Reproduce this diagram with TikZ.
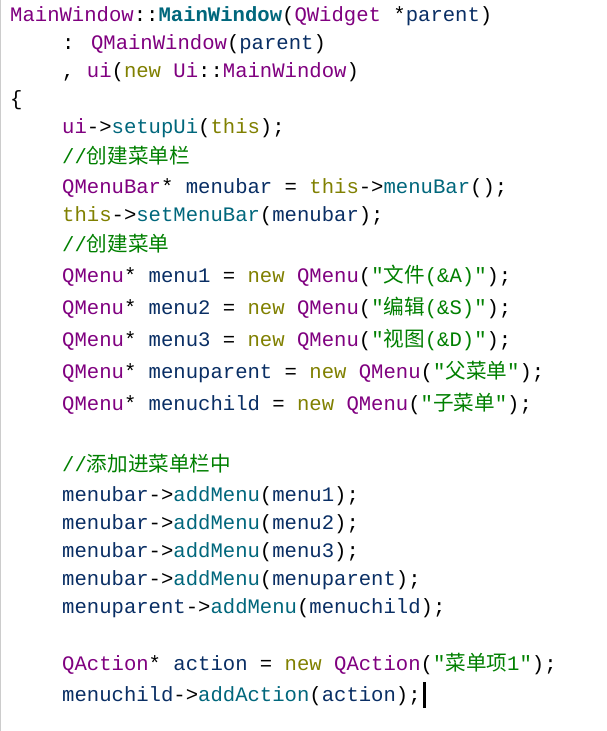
\documentclass[tikz,border=0pt]{standalone}
\usepackage{fontspec}
\usetikzlibrary{positioning}
\newfontfamily\codefont{Liberation Mono}
\newfontfamily\cjk{Noto Sans CJK SC}
\definecolor{clscolor}{RGB}{128,0,128}
\definecolor{fncolor}{RGB}{0,103,124}
\definecolor{kwcolor}{RGB}{128,128,0}
\definecolor{cmcolor}{RGB}{0,128,0}
\definecolor{varcolor}{RGB}{9,46,100}
\newcommand*{\cls}[1]{\textcolor{clscolor}{#1}}
\newcommand*{\fn}[1]{\textcolor{fncolor}{#1}}
\newcommand*{\kw}[1]{\textcolor{kwcolor}{#1}}
\newcommand*{\cm}[1]{\textcolor{cmcolor}{#1}}
\newcommand*{\vr}[1]{\textcolor{varcolor}{#1}}

\begin{document}
\begin{tikzpicture}[x=1pt,y=1pt]
	\tikzset{codeline/.style={anchor=west, inner sep=0pt, font=\codefont\fontsize{20.6}{24}\selectfont, text=black}}
	\useasboundingbox (0,0) rectangle (607,-731);
	\fill[white] (0,0) rectangle (607,-731);
	\draw[gray!40, line width=1pt] (0.5,0) -- (0.5,-731);
	\node (l1) [codeline] at (10,-16) {\cls{MainWindow}::\textbf{\fn{MainWindow}}(\cls{QWidget} *\vr{parent})};
	\node (l2) [codeline] at (62,-44) {: \cls{QMainWindow}(\vr{parent})};
	\node (l3) [codeline] at (62,-72) {, \cls{ui}(\kw{new} \cls{Ui}::\cls{MainWindow})};
	\node (l4) [codeline] at (10,-100) {\{};
	\node (l5) [codeline] at (62,-128) {\cls{ui}->\fn{setupUi}(\kw{this});};
	\node (l6) [codeline] at (62,-156) {\cm{//{\cjk 创建菜单栏}}};
	\node (l7) [codeline] at (62,-188) {\cls{QMenuBar}* \vr{menubar} = \kw{this}->\fn{menuBar}();};
	\node (l8) [codeline] at (62,-216) {\kw{this}->\fn{setMenuBar}(\vr{menubar});};
	\node (l9) [codeline] at (62,-244) {\cm{//{\cjk 创建菜单}}};
	\node (l10) [codeline] at (62,-276) {\cls{QMenu}* \vr{menu1} = \kw{new} \cls{QMenu}(\cm{"{\cjk 文件}(\&A)"});};
	\node (l11) [codeline] at (62,-308) {\cls{QMenu}* \vr{menu2} = \kw{new} \cls{QMenu}(\cm{"{\cjk 编辑}(\&S)"});};
	\node (l12) [codeline] at (62,-340) {\cls{QMenu}* \vr{menu3} = \kw{new} \cls{QMenu}(\cm{"{\cjk 视图}(\&D)"});};
	\node (l13) [codeline] at (62,-372) {\cls{QMenu}* \vr{menuparent} = \kw{new} \cls{QMenu}(\cm{"{\cjk 父菜单}"});};
	\node (l14) [codeline] at (62,-404) {\cls{QMenu}* \vr{menuchild} = \kw{new} \cls{QMenu}(\cm{"{\cjk 子菜单}"});};
	\node (l15) [codeline] at (62,-464) {\cm{//{\cjk 添加进菜单栏中}}};
	\node (l16) [codeline] at (62,-496) {\vr{menubar}->\fn{addMenu}(\vr{menu1});};
	\node (l17) [codeline] at (62,-524) {\vr{menubar}->\fn{addMenu}(\vr{menu2});};
	\node (l18) [codeline] at (62,-552) {\vr{menubar}->\fn{addMenu}(\vr{menu3});};
	\node (l19) [codeline] at (62,-580) {\vr{menubar}->\fn{addMenu}(\vr{menuparent});};
	\node (l20) [codeline] at (62,-608) {\vr{menuparent}->\fn{addMenu}(\vr{menuchild});};
	\node (l21) [codeline] at (62,-664) {\cls{QAction}* \vr{action} = \kw{new} \cls{QAction}(\cm{"{\cjk 菜单项}1"});};
	\node (l22) [codeline] at (62,-696) {\vr{menuchild}->\fn{addAction}(\vr{action});};
	\draw[line width=3pt] ([xshift=4pt]l22.east) ++(0,-12) -- ++(0,26);
\end{tikzpicture}
\end{document}
